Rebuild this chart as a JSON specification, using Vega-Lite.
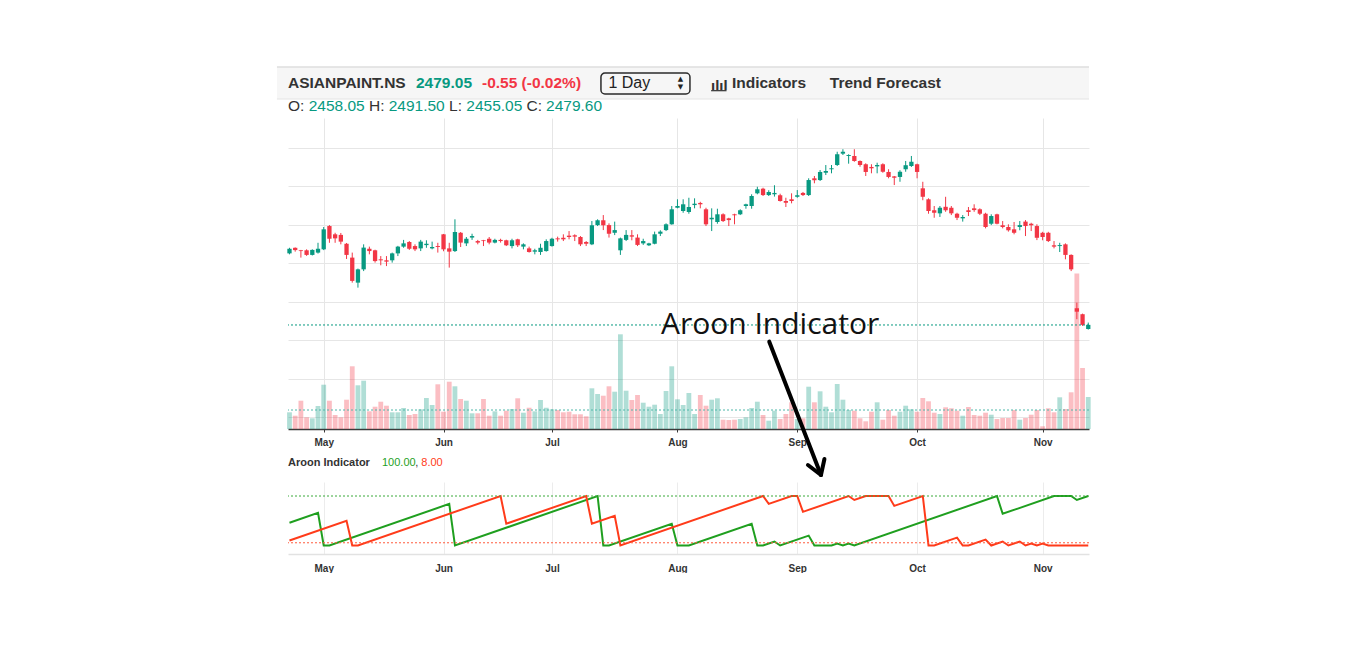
{
  "$schema": "https://vega.github.io/schema/vega-lite/v6.json",
  "background": "white",
  "padding": {"left": 276, "top": 66, "right": 0, "bottom": 0},
  "autosize": {"type": "pad"},
  "config": {"view": {"stroke": null}, "font": "Liberation Sans"},
  "datasets": {
    "ohlc": [
      {"d":"2024-04-23","i":0,"o":2851,"h":2880,"l":2846,"c":2875,"v":1670000},
      {"d":"2024-04-24","i":1,"o":2880,"h":2882,"l":2860,"c":2868,"v":1330000},
      {"d":"2024-04-25","i":2,"o":2867,"h":2869,"l":2829,"c":2863,"v":2830000},
      {"d":"2024-04-26","i":3,"o":2867,"h":2872,"l":2838,"c":2843,"v":1170000},
      {"d":"2024-04-29","i":4,"o":2843,"h":2872,"l":2840,"c":2869,"v":1070000},
      {"d":"2024-04-30","i":5,"o":2855,"h":2906,"l":2850,"c":2875,"v":2300000},
      {"d":"2024-05-02","i":6,"o":2872,"h":2988,"l":2868,"c":2976,"v":4430000},
      {"d":"2024-05-03","i":7,"o":2993,"h":2998,"l":2906,"c":2927,"v":2830000},
      {"d":"2024-05-06","i":8,"o":2950,"h":2958,"l":2906,"c":2929,"v":1400000},
      {"d":"2024-05-07","i":9,"o":2947,"h":2957,"l":2898,"c":2912,"v":1170000},
      {"d":"2024-05-08","i":10,"o":2901,"h":2905,"l":2822,"c":2843,"v":2930000},
      {"d":"2024-05-09","i":11,"o":2829,"h":2855,"l":2699,"c":2708,"v":6270000},
      {"d":"2024-05-10","i":12,"o":2699,"h":2772,"l":2673,"c":2768,"v":4370000},
      {"d":"2024-05-13","i":13,"o":2768,"h":2898,"l":2759,"c":2881,"v":4830000},
      {"d":"2024-05-14","i":14,"o":2875,"h":2886,"l":2846,"c":2863,"v":1770000},
      {"d":"2024-05-15","i":15,"o":2867,"h":2870,"l":2803,"c":2811,"v":2230000},
      {"d":"2024-05-16","i":16,"o":2820,"h":2837,"l":2789,"c":2815,"v":2730000},
      {"d":"2024-05-17","i":17,"o":2815,"h":2837,"l":2785,"c":2808,"v":2330000},
      {"d":"2024-05-21","i":18,"o":2815,"h":2855,"l":2803,"c":2851,"v":1670000},
      {"d":"2024-05-22","i":19,"o":2851,"h":2890,"l":2837,"c":2886,"v":1670000},
      {"d":"2024-05-23","i":20,"o":2886,"h":2921,"l":2880,"c":2903,"v":2100000},
      {"d":"2024-05-24","i":21,"o":2910,"h":2915,"l":2869,"c":2875,"v":1400000},
      {"d":"2024-05-27","i":22,"o":2889,"h":2898,"l":2863,"c":2872,"v":1500000},
      {"d":"2024-05-28","i":23,"o":2877,"h":2921,"l":2863,"c":2912,"v":1970000},
      {"d":"2024-05-29","i":24,"o":2894,"h":2919,"l":2880,"c":2901,"v":3100000},
      {"d":"2024-05-30","i":25,"o":2877,"h":2912,"l":2872,"c":2884,"v":2400000},
      {"d":"2024-05-31","i":26,"o":2889,"h":2906,"l":2855,"c":2884,"v":4470000},
      {"d":"2024-06-03","i":27,"o":2950,"h":2952,"l":2862,"c":2872,"v":1730000},
      {"d":"2024-06-04","i":28,"o":2877,"h":2906,"l":2777,"c":2860,"v":4730000},
      {"d":"2024-06-05","i":29,"o":2863,"h":3028,"l":2858,"c":2962,"v":4270000},
      {"d":"2024-06-06","i":30,"o":2958,"h":2962,"l":2884,"c":2907,"v":3000000},
      {"d":"2024-06-07","i":31,"o":2903,"h":2936,"l":2889,"c":2927,"v":2830000},
      {"d":"2024-06-10","i":32,"o":2933,"h":2953,"l":2921,"c":2941,"v":1570000},
      {"d":"2024-06-11","i":33,"o":2915,"h":2921,"l":2898,"c":2907,"v":1570000},
      {"d":"2024-06-12","i":34,"o":2919,"h":2921,"l":2889,"c":2915,"v":3000000},
      {"d":"2024-06-13","i":35,"o":2927,"h":2936,"l":2898,"c":2907,"v":1330000},
      {"d":"2024-06-14","i":36,"o":2907,"h":2927,"l":2903,"c":2921,"v":1770000},
      {"d":"2024-06-18","i":37,"o":2921,"h":2927,"l":2907,"c":2915,"v":1330000},
      {"d":"2024-06-19","i":38,"o":2919,"h":2922,"l":2889,"c":2893,"v":1830000},
      {"d":"2024-06-20","i":39,"o":2889,"h":2927,"l":2877,"c":2919,"v":2000000},
      {"d":"2024-06-21","i":40,"o":2924,"h":2927,"l":2884,"c":2893,"v":3070000},
      {"d":"2024-06-24","i":41,"o":2886,"h":2903,"l":2872,"c":2898,"v":1630000},
      {"d":"2024-06-25","i":42,"o":2877,"h":2886,"l":2855,"c":2858,"v":2130000},
      {"d":"2024-06-26","i":43,"o":2860,"h":2875,"l":2846,"c":2867,"v":1770000},
      {"d":"2024-06-27","i":44,"o":2858,"h":2901,"l":2843,"c":2880,"v":2900000},
      {"d":"2024-06-28","i":45,"o":2863,"h":2924,"l":2860,"c":2915,"v":2130000},
      {"d":"2024-07-01","i":46,"o":2889,"h":2932,"l":2886,"c":2927,"v":1970000},
      {"d":"2024-07-02","i":47,"o":2929,"h":2938,"l":2912,"c":2924,"v":1900000},
      {"d":"2024-07-03","i":48,"o":2932,"h":2950,"l":2915,"c":2924,"v":1670000},
      {"d":"2024-07-04","i":49,"o":2943,"h":2967,"l":2924,"c":2936,"v":1730000},
      {"d":"2024-07-05","i":50,"o":2945,"h":2950,"l":2915,"c":2938,"v":1470000},
      {"d":"2024-07-08","i":51,"o":2936,"h":2941,"l":2889,"c":2898,"v":1470000},
      {"d":"2024-07-09","i":52,"o":2910,"h":2915,"l":2889,"c":2901,"v":1270000},
      {"d":"2024-07-10","i":53,"o":2898,"h":3019,"l":2894,"c":2997,"v":4070000},
      {"d":"2024-07-11","i":54,"o":2998,"h":3028,"l":2993,"c":3023,"v":3500000},
      {"d":"2024-07-12","i":55,"o":3023,"h":3050,"l":2972,"c":2997,"v":3330000},
      {"d":"2024-07-15","i":56,"o":2998,"h":3007,"l":2933,"c":2953,"v":4270000},
      {"d":"2024-07-16","i":57,"o":2958,"h":3016,"l":2946,"c":2972,"v":3730000},
      {"d":"2024-07-18","i":58,"o":2867,"h":2933,"l":2843,"c":2929,"v":9470000},
      {"d":"2024-07-19","i":59,"o":2921,"h":2972,"l":2915,"c":2947,"v":3830000},
      {"d":"2024-07-22","i":60,"o":2945,"h":2972,"l":2919,"c":2938,"v":2900000},
      {"d":"2024-07-23","i":61,"o":2933,"h":2950,"l":2889,"c":2895,"v":3400000},
      {"d":"2024-07-24","i":62,"o":2903,"h":2927,"l":2895,"c":2915,"v":2630000},
      {"d":"2024-07-25","i":63,"o":2893,"h":2906,"l":2889,"c":2903,"v":2230000},
      {"d":"2024-07-26","i":64,"o":2901,"h":2964,"l":2898,"c":2950,"v":2430000},
      {"d":"2024-07-29","i":65,"o":2953,"h":2971,"l":2941,"c":2964,"v":1500000},
      {"d":"2024-07-30","i":66,"o":2972,"h":3007,"l":2967,"c":3002,"v":3800000},
      {"d":"2024-07-31","i":67,"o":3002,"h":3097,"l":3000,"c":3080,"v":6270000},
      {"d":"2024-08-01","i":68,"o":3088,"h":3132,"l":3085,"c":3097,"v":2970000},
      {"d":"2024-08-02","i":69,"o":3071,"h":3132,"l":3062,"c":3106,"v":2400000},
      {"d":"2024-08-05","i":70,"o":3066,"h":3140,"l":3057,"c":3092,"v":3600000},
      {"d":"2024-08-06","i":71,"o":3102,"h":3137,"l":3085,"c":3109,"v":1500000},
      {"d":"2024-08-07","i":72,"o":3113,"h":3119,"l":3085,"c":3106,"v":3400000},
      {"d":"2024-08-08","i":73,"o":3080,"h":3088,"l":2993,"c":3002,"v":2330000},
      {"d":"2024-08-09","i":74,"o":3028,"h":3085,"l":2967,"c":3036,"v":2930000},
      {"d":"2024-08-12","i":75,"o":3014,"h":3083,"l":3005,"c":3054,"v":3070000},
      {"d":"2024-08-13","i":76,"o":3054,"h":3059,"l":3014,"c":3019,"v":930000},
      {"d":"2024-08-14","i":77,"o":3033,"h":3036,"l":2993,"c":3024,"v":900000},
      {"d":"2024-08-16","i":78,"o":3054,"h":3057,"l":3002,"c":3049,"v":930000},
      {"d":"2024-08-19","i":79,"o":3054,"h":3080,"l":3050,"c":3075,"v":1000000},
      {"d":"2024-08-20","i":80,"o":3097,"h":3109,"l":3083,"c":3106,"v":1170000},
      {"d":"2024-08-21","i":81,"o":3097,"h":3158,"l":3083,"c":3149,"v":2100000},
      {"d":"2024-08-22","i":82,"o":3163,"h":3197,"l":3158,"c":3184,"v":2730000},
      {"d":"2024-08-23","i":83,"o":3187,"h":3192,"l":3149,"c":3154,"v":1400000},
      {"d":"2024-08-26","i":84,"o":3154,"h":3179,"l":3149,"c":3170,"v":830000},
      {"d":"2024-08-27","i":85,"o":3158,"h":3205,"l":3146,"c":3165,"v":1830000},
      {"d":"2024-08-28","i":86,"o":3153,"h":3161,"l":3120,"c":3123,"v":1000000},
      {"d":"2024-08-29","i":87,"o":3123,"h":3140,"l":3092,"c":3114,"v":1500000},
      {"d":"2024-08-30","i":88,"o":3132,"h":3163,"l":3111,"c":3123,"v":2670000},
      {"d":"2024-09-02","i":89,"o":3145,"h":3180,"l":3140,"c":3153,"v":1000000},
      {"d":"2024-09-03","i":90,"o":3165,"h":3170,"l":3149,"c":3154,"v":1070000},
      {"d":"2024-09-04","i":91,"o":3154,"h":3241,"l":3149,"c":3232,"v":4230000},
      {"d":"2024-09-05","i":92,"o":3241,"h":3253,"l":3215,"c":3231,"v":2670000},
      {"d":"2024-09-06","i":93,"o":3232,"h":3284,"l":3227,"c":3274,"v":3770000},
      {"d":"2024-09-09","i":94,"o":3270,"h":3310,"l":3258,"c":3279,"v":2230000},
      {"d":"2024-09-10","i":95,"o":3288,"h":3310,"l":3267,"c":3293,"v":1670000},
      {"d":"2024-09-11","i":96,"o":3310,"h":3379,"l":3305,"c":3366,"v":4500000},
      {"d":"2024-09-12","i":97,"o":3369,"h":3392,"l":3362,"c":3379,"v":2930000},
      {"d":"2024-09-13","i":98,"o":3357,"h":3366,"l":3317,"c":3362,"v":1900000},
      {"d":"2024-09-16","i":99,"o":3357,"h":3392,"l":3327,"c":3331,"v":1830000},
      {"d":"2024-09-17","i":100,"o":3331,"h":3334,"l":3301,"c":3310,"v":1070000},
      {"d":"2024-09-18","i":101,"o":3314,"h":3319,"l":3253,"c":3274,"v":770000},
      {"d":"2024-09-19","i":102,"o":3300,"h":3314,"l":3267,"c":3293,"v":1730000},
      {"d":"2024-09-20","i":103,"o":3303,"h":3322,"l":3267,"c":3310,"v":2670000},
      {"d":"2024-09-23","i":104,"o":3314,"h":3319,"l":3270,"c":3275,"v":930000},
      {"d":"2024-09-24","i":105,"o":3274,"h":3288,"l":3241,"c":3248,"v":1900000},
      {"d":"2024-09-25","i":106,"o":3251,"h":3253,"l":3206,"c":3244,"v":1330000},
      {"d":"2024-09-26","i":107,"o":3248,"h":3283,"l":3223,"c":3275,"v":1730000},
      {"d":"2024-09-27","i":108,"o":3288,"h":3331,"l":3275,"c":3309,"v":2330000},
      {"d":"2024-09-30","i":109,"o":3305,"h":3357,"l":3300,"c":3327,"v":1970000},
      {"d":"2024-10-01","i":110,"o":3314,"h":3317,"l":3241,"c":3274,"v":1730000},
      {"d":"2024-10-03","i":111,"o":3189,"h":3223,"l":3127,"c":3145,"v":3100000},
      {"d":"2024-10-04","i":112,"o":3132,"h":3137,"l":3057,"c":3071,"v":2770000},
      {"d":"2024-10-07","i":113,"o":3075,"h":3097,"l":3036,"c":3062,"v":1630000},
      {"d":"2024-10-08","i":114,"o":3059,"h":3097,"l":3040,"c":3088,"v":1500000},
      {"d":"2024-10-09","i":115,"o":3093,"h":3145,"l":3067,"c":3075,"v":2170000},
      {"d":"2024-10-10","i":116,"o":3088,"h":3097,"l":3050,"c":3059,"v":2070000},
      {"d":"2024-10-11","i":117,"o":3057,"h":3062,"l":3024,"c":3036,"v":1830000},
      {"d":"2024-10-14","i":118,"o":3033,"h":3050,"l":3016,"c":3040,"v":1330000},
      {"d":"2024-10-15","i":119,"o":3075,"h":3092,"l":3045,"c":3066,"v":2200000},
      {"d":"2024-10-16","i":120,"o":3085,"h":3106,"l":3067,"c":3076,"v":1400000},
      {"d":"2024-10-17","i":121,"o":3080,"h":3085,"l":3050,"c":3057,"v":1330000},
      {"d":"2024-10-18","i":122,"o":3057,"h":3062,"l":2981,"c":2988,"v":1630000},
      {"d":"2024-10-21","i":123,"o":3005,"h":3054,"l":2998,"c":3045,"v":1430000},
      {"d":"2024-10-22","i":124,"o":3054,"h":3057,"l":3002,"c":3005,"v":1000000},
      {"d":"2024-10-23","i":125,"o":2997,"h":3019,"l":2981,"c":2988,"v":1100000},
      {"d":"2024-10-24","i":126,"o":2988,"h":3002,"l":2964,"c":2971,"v":1100000},
      {"d":"2024-10-25","i":127,"o":2976,"h":3014,"l":2950,"c":2958,"v":1900000},
      {"d":"2024-10-28","i":128,"o":2988,"h":3019,"l":2971,"c":2998,"v":930000},
      {"d":"2024-10-29","i":129,"o":3016,"h":3024,"l":2941,"c":2993,"v":1100000},
      {"d":"2024-10-30","i":130,"o":3005,"h":3010,"l":2967,"c":2997,"v":1430000},
      {"d":"2024-10-31","i":131,"o":2993,"h":3002,"l":2920,"c":2932,"v":1900000},
      {"d":"2024-11-01","i":132,"o":2958,"h":2963,"l":2919,"c":2936,"v":270000},
      {"d":"2024-11-04","i":133,"o":2958,"h":2963,"l":2910,"c":2915,"v":2070000},
      {"d":"2024-11-05","i":134,"o":2893,"h":2915,"l":2877,"c":2886,"v":1670000},
      {"d":"2024-11-06","i":135,"o":2889,"h":2906,"l":2858,"c":2894,"v":3170000},
      {"d":"2024-11-07","i":136,"o":2898,"h":2903,"l":2820,"c":2843,"v":2000000},
      {"d":"2024-11-08","i":137,"o":2843,"h":2846,"l":2759,"c":2768,"v":3670000},
      {"d":"2024-11-11","i":138,"o":2566,"h":2595,"l":2509,"c":2548,"v":15560000},
      {"d":"2024-11-12","i":139,"o":2535,"h":2538,"l":2474,"c":2479.6,"v":6100000},
      {"d":"2024-11-13","i":140,"o":2458.05,"h":2491.5,"l":2455.05,"c":2479.6,"v":3200000}
    ],
    "aroon": [
      {"s":"up","i":0,"v":46},{"s":"up","i":5,"v":66},{"s":"up","i":6,"v":0},{"s":"up","i":7,"v":0},
      {"s":"up","i":28,"v":84},{"s":"up","i":29,"v":0},{"s":"up","i":54,"v":100},{"s":"up","i":55,"v":0},
      {"s":"up","i":56,"v":0},{"s":"up","i":67,"v":44},{"s":"up","i":68,"v":0},{"s":"up","i":70,"v":0},
      {"s":"up","i":81,"v":44},{"s":"up","i":82,"v":0},{"s":"up","i":83,"v":0},{"s":"up","i":85,"v":8},
      {"s":"up","i":86,"v":0},{"s":"up","i":91,"v":20},{"s":"up","i":92,"v":0},{"s":"up","i":95,"v":0},
      {"s":"up","i":96,"v":4},{"s":"up","i":97,"v":0},{"s":"up","i":98,"v":4},{"s":"up","i":99,"v":0},
      {"s":"up","i":124,"v":100},{"s":"up","i":125,"v":64},{"s":"up","i":134,"v":100},{"s":"up","i":137,"v":100},
      {"s":"up","i":138,"v":92},{"s":"up","i":140,"v":100},
      {"s":"down","i":0,"v":10},{"s":"down","i":10,"v":50},{"s":"down","i":11,"v":0},{"s":"down","i":12,"v":0},
      {"s":"down","i":37,"v":100},{"s":"down","i":38,"v":44},{"s":"down","i":52,"v":100},{"s":"down","i":53,"v":44},
      {"s":"down","i":57,"v":60},{"s":"down","i":58,"v":0},{"s":"down","i":83,"v":100},{"s":"down","i":84,"v":84},
      {"s":"down","i":88,"v":100},{"s":"down","i":89,"v":100},{"s":"down","i":90,"v":68},{"s":"down","i":98,"v":100},
      {"s":"down","i":99,"v":92},{"s":"down","i":101,"v":100},{"s":"down","i":105,"v":100},{"s":"down","i":106,"v":80},
      {"s":"down","i":111,"v":100},{"s":"down","i":112,"v":0},{"s":"down","i":113,"v":0},{"s":"down","i":117,"v":16},
      {"s":"down","i":118,"v":0},{"s":"down","i":119,"v":0},{"s":"down","i":122,"v":12},{"s":"down","i":123,"v":0},
      {"s":"down","i":125,"v":8},{"s":"down","i":126,"v":0},{"s":"down","i":128,"v":8},{"s":"down","i":129,"v":0},
      {"s":"down","i":130,"v":4},{"s":"down","i":131,"v":0},{"s":"down","i":132,"v":4},{"s":"down","i":133,"v":0},
      {"s":"down","i":140,"v":0}
    ]
  },
  "bounds": "flush",
  "spacing": 19,
  "vconcat": [
    {
      "width": 801,
      "height": 32,
      "layer": [
        {
          "data": {"values": [{}]},
          "mark": {"type": "rect", "color": "#f6f6f6", "clip": false},
          "encoding": {
            "x": {"datum": -2.2, "type": "quantitative", "scale": {"domain": [-0.26, 140.13], "nice": false, "zero": false, "padding": 0}, "axis": null},
            "x2": {"datum": 140.13},
            "y": {"datum": 0, "type": "quantitative", "scale": {"domain": [0, 1], "nice": false, "zero": false, "padding": 0}, "axis": null},
            "y2": {"datum": 1}
          }
        },
        {
          "data": {"values": [{}]},
          "mark": {"type": "rule", "color": "#dedede", "strokeWidth": 1.5, "clip": false},
          "encoding": {"x": {"datum": -2.2, "type": "quantitative"}, "x2": {"datum": 140.13}, "y": {"datum": 1, "type": "quantitative"}}
        },
        {
          "data": {"values": [{}]},
          "mark": {"type": "rule", "color": "#e4e4e4", "strokeWidth": 1, "clip": false},
          "encoding": {"x": {"datum": -2.2, "type": "quantitative"}, "x2": {"datum": 140.13}, "y": {"datum": 0, "type": "quantitative"}}
        },
        {
          "data": {"values": [{}]},
          "mark": {"type": "rect", "fill": "#f6f6f6", "stroke": "#2b2b2b", "strokeWidth": 1.5, "cornerRadius": 4, "clip": false},
          "encoding": {"x": {"datum": 54.59, "type": "quantitative"}, "x2": {"datum": 70.19}, "y": {"datum": 0.156, "type": "quantitative"}, "y2": {"datum": 0.8125}}
        },
        {
          "data": {"values": [{}]},
          "mark": {"type": "text", "text": "ASIANPAINT.NS", "align": "left", "baseline": "middle", "font": "Liberation Sans", "fontSize": 15.5, "fontWeight": "bold", "color": "#333333", "clip": false},
          "encoding": {"x": {"datum": -0.26, "type": "quantitative"}, "y": {"datum": 0.5, "type": "quantitative"}}
        },
        {
          "data": {"values": [{}]},
          "mark": {"type": "text", "text": "2479.05", "align": "left", "baseline": "middle", "font": "Liberation Sans", "fontSize": 15.5, "fontWeight": "bold", "color": "#089981", "clip": false},
          "encoding": {"x": {"datum": 22.17, "type": "quantitative"}, "y": {"datum": 0.5, "type": "quantitative"}}
        },
        {
          "data": {"values": [{}]},
          "mark": {"type": "text", "text": "-0.55 (-0.02%)", "align": "left", "baseline": "middle", "font": "Liberation Sans", "fontSize": 15.5, "fontWeight": "bold", "color": "#f23645", "clip": false},
          "encoding": {"x": {"datum": 33.74, "type": "quantitative"}, "y": {"datum": 0.5, "type": "quantitative"}}
        },
        {
          "data": {"values": [{}]},
          "mark": {"type": "text", "text": "1 Day", "align": "left", "baseline": "middle", "font": "Liberation Sans", "fontSize": 16, "color": "#222222", "clip": false},
          "encoding": {"x": {"datum": 55.9, "type": "quantitative"}, "y": {"datum": 0.49, "type": "quantitative"}}
        },
        {
          "data": {"values": [{}]},
          "mark": {"type": "text", "text": "▲", "align": "center", "baseline": "middle", "font": "DejaVu Sans", "fontSize": 7, "color": "#222222", "clip": false},
          "encoding": {"x": {"datum": 68.5, "type": "quantitative"}, "y": {"datum": 0.61, "type": "quantitative"}}
        },
        {
          "data": {"values": [{}]},
          "mark": {"type": "text", "text": "▼", "align": "center", "baseline": "middle", "font": "DejaVu Sans", "fontSize": 7, "color": "#222222", "clip": false},
          "encoding": {"x": {"datum": 68.5, "type": "quantitative"}, "y": {"datum": 0.37, "type": "quantitative"}}
        },
        {
          "data": {"values": [{}]},
          "mark": {"type": "text", "text": "ılıl", "align": "left", "baseline": "alphabetic", "font": "DejaVu Sans", "fontSize": 12, "fontWeight": "bold", "color": "#333333", "clip": false},
          "encoding": {"x": {"datum": 73.9, "type": "quantitative"}, "y": {"datum": 0.29, "type": "quantitative"}}
        },
        {
          "data": {"values": [{}]},
          "mark": {"type": "rule", "color": "#333333", "strokeWidth": 1.2, "clip": false},
          "encoding": {"x": {"datum": 73.9, "type": "quantitative"}, "x2": {"datum": 76.6}, "y": {"datum": 0.26, "type": "quantitative"}}
        },
        {
          "data": {"values": [{}]},
          "mark": {"type": "text", "text": "Indicators", "align": "left", "baseline": "middle", "font": "Liberation Sans", "fontSize": 15.5, "fontWeight": "bold", "color": "#333333", "clip": false},
          "encoding": {"x": {"datum": 77.55, "type": "quantitative"}, "y": {"datum": 0.5, "type": "quantitative"}}
        },
        {
          "data": {"values": [{}]},
          "mark": {"type": "text", "text": "Trend Forecast", "align": "left", "baseline": "middle", "font": "Liberation Sans", "fontSize": 15.5, "fontWeight": "bold", "color": "#333333", "clip": false},
          "encoding": {"x": {"datum": 94.7, "type": "quantitative"}, "y": {"datum": 0.5, "type": "quantitative"}}
        },
        {
          "data": {"values": [{}]},
          "mark": {"type": "text", "text": "O:", "align": "left", "baseline": "middle", "font": "Liberation Sans", "fontSize": 15.5, "color": "#333333", "clip": false},
          "encoding": {"x": {"datum": -0.26, "type": "quantitative"}, "y": {"datum": -0.22, "type": "quantitative"}}
        },
        {
          "data": {"values": [{}]},
          "mark": {"type": "text", "text": "2458.05", "align": "left", "baseline": "middle", "font": "Liberation Sans", "fontSize": 15.5, "color": "#089981", "clip": false},
          "encoding": {"x": {"datum": 3.36, "type": "quantitative"}, "y": {"datum": -0.22, "type": "quantitative"}}
        },
        {
          "data": {"values": [{}]},
          "mark": {"type": "text", "text": "H:", "align": "left", "baseline": "middle", "font": "Liberation Sans", "fontSize": 15.5, "color": "#333333", "clip": false},
          "encoding": {"x": {"datum": 13.94, "type": "quantitative"}, "y": {"datum": -0.22, "type": "quantitative"}}
        },
        {
          "data": {"values": [{}]},
          "mark": {"type": "text", "text": "2491.50", "align": "left", "baseline": "middle", "font": "Liberation Sans", "fontSize": 15.5, "color": "#089981", "clip": false},
          "encoding": {"x": {"datum": 17.39, "type": "quantitative"}, "y": {"datum": -0.22, "type": "quantitative"}}
        },
        {
          "data": {"values": [{}]},
          "mark": {"type": "text", "text": "L:", "align": "left", "baseline": "middle", "font": "Liberation Sans", "fontSize": 15.5, "color": "#333333", "clip": false},
          "encoding": {"x": {"datum": 27.96, "type": "quantitative"}, "y": {"datum": -0.22, "type": "quantitative"}}
        },
        {
          "data": {"values": [{}]},
          "mark": {"type": "text", "text": "2455.05", "align": "left", "baseline": "middle", "font": "Liberation Sans", "fontSize": 15.5, "color": "#089981", "clip": false},
          "encoding": {"x": {"datum": 30.99, "type": "quantitative"}, "y": {"datum": -0.22, "type": "quantitative"}}
        },
        {
          "data": {"values": [{}]},
          "mark": {"type": "text", "text": "C:", "align": "left", "baseline": "middle", "font": "Liberation Sans", "fontSize": 15.5, "color": "#333333", "clip": false},
          "encoding": {"x": {"datum": 41.55, "type": "quantitative"}, "y": {"datum": -0.22, "type": "quantitative"}}
        },
        {
          "data": {"values": [{}]},
          "mark": {"type": "text", "text": "2479.60", "align": "left", "baseline": "middle", "font": "Liberation Sans", "fontSize": 15.5, "color": "#089981", "clip": false},
          "encoding": {"x": {"datum": 44.97, "type": "quantitative"}, "y": {"datum": -0.22, "type": "quantitative"}}
        }
      ]
    },
    {
      "bounds": "flush",
      "spacing": 53,
      "vconcat": [
        {
          "width": 801,
          "height": 311,
          "resolve": {"scale": {"y": "independent"}, "axis": {"y": "independent"}},
          "layer": [
            {
              "layer": [
                {
                  "data": {"name": "ohlc"},
                  "mark": {"type": "bar", "orient": "vertical", "size": 4.8, "opacity": 0.32},
                  "encoding": {
                    "x": {
                      "field": "i", "type": "quantitative",
                      "scale": {"domain": [-0.26, 140.13], "nice": false, "zero": false, "padding": 0},
                      "axis": {
                        "title": null,
                        "values": [6, 27, 46, 68, 89, 110, 132],
                        "labelExpr": "datum.value == 6 ? 'May' : datum.value == 27 ? 'Jun' : datum.value == 46 ? 'Jul' : datum.value == 68 ? 'Aug' : datum.value == 89 ? 'Sep' : datum.value == 110 ? 'Oct' : datum.value == 132 ? 'Nov' : ''",
                        "grid": true, "gridColor": "#e6e6e6", "gridWidth": 1,
                        "domain": true, "domainColor": "#3a3a3a", "domainWidth": 1.5,
                        "ticks": true, "tickSize": 3, "tickColor": "#3a3a3a",
                        "labelFont": "Liberation Sans", "labelFontSize": 10, "labelFontWeight": "bold", "labelColor": "#333333", "labelPadding": 5
                      }
                    },
                    "y": {"field": "v", "type": "quantitative", "scale": {"domain": [0, 31100000], "nice": false, "zero": true, "padding": 0}, "axis": null},
                    "color": {"condition": {"test": "datum.c >= datum.o", "value": "#089981"}, "value": "#f23645"}
                  }
                },
                {
                  "data": {"values": [{}]},
                  "mark": {"type": "rule", "color": "#4fb8aa", "strokeWidth": 1, "strokeDash": [2, 2]},
                  "encoding": {"y": {"datum": 1900000, "type": "quantitative"}}
                }
              ]
            },
            {
              "layer": [
                {
                  "data": {"name": "ohlc"},
                  "mark": {"type": "rule", "strokeWidth": 1},
                  "encoding": {
                    "x": {"field": "i", "type": "quantitative"},
                    "y": {
                      "field": "l", "type": "quantitative",
                      "scale": {"domain": [1938.6, 3554.3], "nice": false, "zero": false, "padding": 0},
                      "axis": {"title": null, "values": [2000, 2200, 2400, 2600, 2800, 3000, 3200, 3400], "grid": true, "gridColor": "#e6e6e6", "labels": false, "ticks": false, "domain": false}
                    },
                    "y2": {"field": "h"},
                    "color": {"condition": {"test": "datum.c >= datum.o", "value": "#089981"}, "value": "#f23645"}
                  }
                },
                {
                  "data": {"name": "ohlc"},
                  "mark": {"type": "bar", "orient": "vertical", "size": 4.3},
                  "encoding": {
                    "x": {"field": "i", "type": "quantitative"},
                    "y": {"field": "o", "type": "quantitative"},
                    "y2": {"field": "c"},
                    "color": {"condition": {"test": "datum.c >= datum.o", "value": "#089981"}, "value": "#f23645"}
                  }
                },
                {
                  "data": {"values": [{}]},
                  "mark": {"type": "rule", "color": "#089981", "strokeWidth": 1, "strokeDash": [2, 2]},
                  "encoding": {"y": {"datum": 2479.05, "type": "quantitative"}}
                },
                {
                  "data": {"values": [{}]},
                  "mark": {"type": "text", "text": "Aroon Indicator", "align": "left", "baseline": "alphabetic", "font": "Open Sans", "fontSize": 30, "color": "#111111", "clip": false},
                  "encoding": {"x": {"datum": 65.11, "type": "quantitative"}, "y": {"datum": 2430.6, "type": "quantitative"}}
                },
                {
                  "data": {"values": [{}]},
                  "mark": {"type": "rule", "color": "#000000", "strokeWidth": 4, "strokeCap": "round", "clip": false},
                  "encoding": {"x": {"datum": 84.09, "type": "quantitative"}, "x2": {"datum": 93.15}, "y": {"datum": 2392.2, "type": "quantitative"}, "y2": {"datum": 1699.7}}
                },
                {
                  "data": {"values": [{}]},
                  "mark": {"type": "rule", "color": "#000000", "strokeWidth": 4, "strokeCap": "round", "clip": false},
                  "encoding": {"x": {"datum": 90.87, "type": "quantitative"}, "x2": {"datum": 93.15}, "y": {"datum": 1751.6, "type": "quantitative"}, "y2": {"datum": 1699.7}}
                },
                {
                  "data": {"values": [{}]},
                  "mark": {"type": "rule", "color": "#000000", "strokeWidth": 4, "strokeCap": "round", "clip": false},
                  "encoding": {"x": {"datum": 93.76, "type": "quantitative"}, "x2": {"datum": 93.15}, "y": {"datum": 1782.8, "type": "quantitative"}, "y2": {"datum": 1699.7}}
                }
              ]
            }
          ]
        },
        {
          "width": 801,
          "height": 72,
          "layer": [
            {
              "data": {"name": "aroon"},
              "mark": {"type": "line", "strokeWidth": 2, "clip": true},
              "encoding": {
                "x": {
                  "field": "i", "type": "quantitative",
                  "scale": {"domain": [-0.26, 140.13], "nice": false, "zero": false, "padding": 0},
                  "axis": {
                    "title": null,
                    "values": [6, 27, 46, 68, 89, 110, 132],
                    "labelExpr": "datum.value == 6 ? 'May' : datum.value == 27 ? 'Jun' : datum.value == 46 ? 'Jul' : datum.value == 68 ? 'Aug' : datum.value == 89 ? 'Sep' : datum.value == 110 ? 'Oct' : datum.value == 132 ? 'Nov' : ''",
                    "grid": true, "gridColor": "#ececec",
                    "domain": true, "domainColor": "#e2e2e2", "domainWidth": 1.5,
                    "ticks": false, "tickSize": 0,
                    "labelFont": "Liberation Sans", "labelFontSize": 10, "labelFontWeight": "bold", "labelColor": "#333333", "labelPadding": 9
                  }
                },
                "y": {"field": "v", "type": "quantitative", "scale": {"domain": [-17.2, 128.3], "nice": false, "zero": false, "padding": 0}, "axis": null},
                "color": {"field": "s", "type": "nominal", "scale": {"domain": ["up", "down"], "range": ["#1f9f1f", "#ff3b1a"]}, "legend": null},
                "order": {"field": "i", "type": "quantitative"}
              }
            },
            {
              "data": {"values": [{}]},
              "mark": {"type": "rule", "color": "#3aaa3a", "strokeWidth": 1, "strokeDash": [2, 2]},
              "encoding": {"y": {"datum": 100, "type": "quantitative"}}
            },
            {
              "data": {"values": [{}]},
              "mark": {"type": "rule", "color": "#ff5a3c", "strokeWidth": 1, "strokeDash": [2, 2]},
              "encoding": {"y": {"datum": 5.5, "type": "quantitative"}}
            },
            {
              "data": {"values": [{}]},
              "mark": {"type": "text", "text": "Aroon Indicator", "align": "left", "baseline": "middle", "font": "Liberation Sans", "fontSize": 11, "fontWeight": "bold", "color": "#333333", "clip": false},
              "encoding": {"x": {"datum": -0.26, "type": "quantitative"}, "y": {"datum": 165.7, "type": "quantitative"}}
            },
            {
              "data": {"values": [{}]},
              "mark": {"type": "text", "text": "100.00", "align": "left", "baseline": "middle", "font": "Liberation Sans", "fontSize": 11, "color": "#1f9f1f", "clip": false},
              "encoding": {"x": {"datum": 16.21, "type": "quantitative"}, "y": {"datum": 165.7, "type": "quantitative"}}
            },
            {
              "data": {"values": [{}]},
              "mark": {"type": "text", "text": ",", "align": "left", "baseline": "middle", "font": "Liberation Sans", "fontSize": 11, "color": "#333333", "clip": false},
              "encoding": {"x": {"datum": 22.05, "type": "quantitative"}, "y": {"datum": 165.7, "type": "quantitative"}}
            },
            {
              "data": {"values": [{}]},
              "mark": {"type": "text", "text": "8.00", "align": "left", "baseline": "middle", "font": "Liberation Sans", "fontSize": 11, "color": "#ff3b1a", "clip": false},
              "encoding": {"x": {"datum": 23.1, "type": "quantitative"}, "y": {"datum": 165.7, "type": "quantitative"}}
            }
          ]
        }
      ]
    }
  ]
}
